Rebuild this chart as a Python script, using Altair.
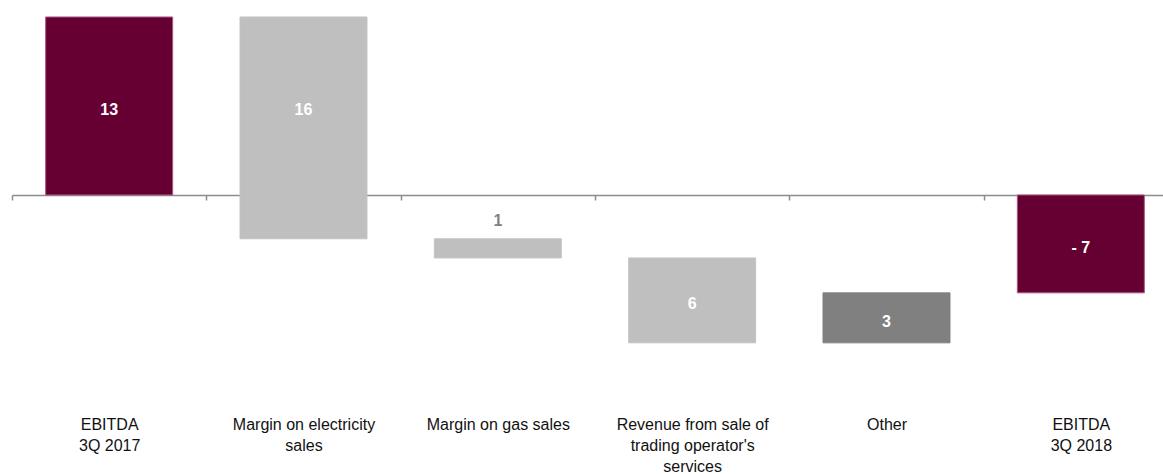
import altair as alt
import pandas as pd

# ---- data ----
categories = [
    "EBITDA|3Q 2017",
    "Margin on electricity|sales",
    "Margin on gas sales",
    "Revenue from sale of|trading operator's|services",
    "Other",
    "EBITDA|3Q 2018",
]
values = [13.0, -16.2, -1.4, -6.2, 3.65, -7.15]
is_total = [True, False, False, False, False, True]
value_labels = ["13", "16", "1", "6", "3", "- 7"]

# ---- styles ----
bar_colors = ["#660033", "#bfbfbf", "#bfbfbf", "#bfbfbf", "#808080", "#660033"]
bar_strokes = ["#a85a84", "#c4c4c4", "#c4c4c4", "#c4c4c4", "#808080", "#a85a84"]

rows = []
running = 0.0
for cat, v, tot, lab in zip(categories, values, is_total, value_labels):
    if tot:
        start, end = 0.0, v
        running = v
    else:
        start, end = running, running + v
        running = end
    hi, lo = max(start, end), min(start, end)
    if hi > 0 and lo < 0:
        mid = hi / 2.0
    else:
        mid = (hi + lo) / 2.0
    rows.append(dict(cat=cat, start=start, end=end, top=hi, mid=mid,
                     label=lab, small=abs(v) < 2))
df = pd.DataFrame(rows)

W, H = 1151, 474
x = alt.X(
    "cat:N",
    sort=categories,
    scale=alt.Scale(range=[0, 1166], paddingInner=0, paddingOuter=0),
    axis=alt.Axis(
        title=None, orient="bottom", offset=-279,
        domainColor="#8c8c8c", domainWidth=1.5,
        tickColor="#8c8c8c", tickWidth=1.5, tickSize=5, tickBand="extent",
        labelExpr="split(datum.label, '|')", labelLineHeight=21,
        labelFont="Liberation Sans", labelFontSize=16, labelColor="#111111",
        labelPadding=216, labelAngle=0, labelOverlap=False, labelBound=False,
        labelLimit=300, grid=False,
    ),
)
yscale = alt.Scale(domain=[-20.38, 14.24], nice=False, zero=False)

bars = alt.Chart(df).mark_bar(width=alt.RelativeBandSize(0.6535), strokeWidth=1).encode(
    x=x,
    y=alt.Y("start:Q", scale=yscale, axis=None),
    y2="end:Q",
    color=alt.Color("cat:N", scale=alt.Scale(domain=categories, range=bar_colors), legend=None),
    stroke=alt.Stroke("cat:N", scale=alt.Scale(domain=categories, range=bar_strokes), legend=None),
)

inside = alt.Chart(df).transform_filter("!datum.small").mark_text(
    font="Liberation Sans", fontWeight="bold", fontSize=16, color="white",
    baseline="middle", dy=4
).encode(x=x, y=alt.Y("mid:Q", scale=yscale, axis=None), text="label:N")

outside = alt.Chart(df).transform_filter("datum.small").mark_text(
    font="Liberation Sans", fontWeight="bold", fontSize=16, color="#808080",
    baseline="bottom", dy=-10
).encode(x=x, y=alt.Y("top:Q", scale=yscale, axis=None), text="label:N")

chart = alt.layer(bars, inside, outside).properties(
    width=W, height=H,
    autosize=alt.AutoSizeParams(type="none"),
    padding={"left": 12, "top": 0, "right": 0, "bottom": 0},
    background="white",
).configure_view(stroke=None)

chart.save("out.html", embed_options={"renderer": "svg", "actions": False})
